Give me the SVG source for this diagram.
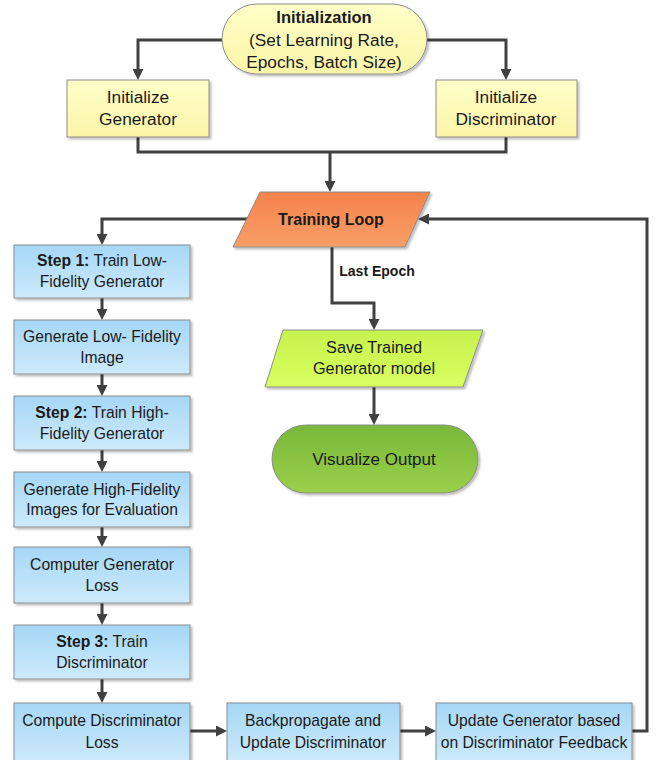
<svg xmlns="http://www.w3.org/2000/svg" width="657" height="760" viewBox="0 0 657 760">
<defs>
<marker id="arr" markerUnits="userSpaceOnUse" markerWidth="11" markerHeight="11" refX="0" refY="5.5" orient="auto">
<path d="M0,0 L11,5.5 L0,11 z" fill="#404040"/>
</marker>
<linearGradient id="gBlue" x1="0" y1="0" x2="0" y2="1">
<stop offset="0" stop-color="#a5d7f6"/><stop offset="1" stop-color="#cdeafb"/>
</linearGradient>
<linearGradient id="gYellow" x1="0" y1="0" x2="0" y2="1">
<stop offset="0" stop-color="#ffffc8"/><stop offset="1" stop-color="#fbf5a8"/>
</linearGradient>
<linearGradient id="gOrange" x1="0" y1="0" x2="0" y2="1">
<stop offset="0" stop-color="#f5824c"/><stop offset="1" stop-color="#fa9e68"/>
</linearGradient>
<linearGradient id="gLime" x1="0" y1="0" x2="0" y2="1">
<stop offset="0" stop-color="#c6f24e"/><stop offset="1" stop-color="#d8ff5e"/>
</linearGradient>
<linearGradient id="gGreen" x1="0" y1="0" x2="0" y2="1">
<stop offset="0" stop-color="#78b83a"/><stop offset="1" stop-color="#9ad04a"/>
</linearGradient>
<filter id="sh" x="-10%" y="-10%" width="130%" height="140%">
<feDropShadow dx="2" dy="2" stdDeviation="1.2" flood-color="#000" flood-opacity="0.25"/>
</filter>
</defs>
<style>
text{font-family:"Liberation Sans",Arial,sans-serif;font-size:15.7px;fill:#1a1a1a;text-anchor:middle}
.b{font-weight:bold}
.y{font-size:17.3px}
.box{stroke:#8c8c8c;stroke-width:1;filter:url(#sh)}
.blue{fill:url(#gBlue)}
.yel{fill:url(#gYellow)}
.con{fill:none;stroke:#404040;stroke-width:3}
.arr{marker-end:url(#arr)}
</style>

<g id="connectors">
<path class="con arr" d="M222,40 H138 V69"/>
<path class="con arr" d="M427,40 H506 V69"/>
<path class="con" d="M138,137 V152 H506 V137"/>
<path class="con arr" d="M330,152 V181"/>
<path class="con arr" d="M248,219 H102 V234"/>
<path class="con arr" d="M102,298 V309"/>
<path class="con arr" d="M102,374 V385"/>
<path class="con arr" d="M102,450 V461"/>
<path class="con arr" d="M102,527 V536"/>
<path class="con arr" d="M102,603 V614"/>
<path class="con arr" d="M102,679 V692"/>
<path class="con arr" d="M190,731 H216"/>
<path class="con arr" d="M400,731 H425"/>
<path class="con arr" d="M632,731 H647 V219 H429"/>
<path class="con arr" d="M332,247 V303 H374 V319"/>
<path class="con arr" d="M374,387 V414"/>
</g>

<g id="n-init">
<rect class="box yel" x="222" y="4" width="205" height="70" rx="35" ry="35"/>
<text class="b" x="324" y="23" style="font-size:16.5px">Initialization</text>
<text class="y" x="324" y="46">(Set Learning Rate,</text>
<text class="y" x="324" y="68">Epochs, Batch Size)</text>
</g>
<g id="n-initgen">
<rect class="box yel" x="67" y="80" width="142" height="57"/>
<text class="y" x="138" y="103">Initialize</text>
<text class="y" x="138" y="125">Generator</text>
</g>
<g id="n-initdisc">
<rect class="box yel" x="436" y="80" width="141" height="57"/>
<text class="y" x="506" y="103">Initialize</text>
<text class="y" x="506" y="125">Discriminator</text>
</g>
<g id="n-loop">
<polygon class="box" fill="url(#gOrange)" points="260,192 430,192 405,247 233,247"/>
<text class="b" x="331" y="225" style="font-size:16px">Training Loop</text>
</g>
<text class="b" x="377" y="276" style="font-size:14px">Last Epoch</text>
<g id="n-save">
<polygon class="box" fill="url(#gLime)" points="283,330 483,330 463,387 265,387"/>
<text x="374" y="353" style="font-size:16.3px">Save Trained</text>
<text x="374" y="374" style="font-size:16.3px">Generator model</text>
</g>
<g id="n-vis">
<rect class="box" fill="url(#gGreen)" x="272" y="425" width="206" height="68" rx="34" ry="34"/>
<text x="374" y="465" style="font-size:17px">Visualize Output</text>
</g>
<g id="n-step1">
<rect class="box blue" x="14" y="245" width="176" height="53"/>
<text x="102" y="266"><tspan class="b">Step 1:</tspan> Train Low-</text>
<text x="102" y="287">Fidelity Generator</text>
</g>
<g id="n-genlow">
<rect class="box blue" x="14" y="320" width="176" height="54"/>
<text x="102" y="342">Generate Low- Fidelity</text>
<text x="102" y="363">Image</text>
</g>
<g id="n-step2">
<rect class="box blue" x="14" y="396" width="176" height="54"/>
<text x="102" y="418"><tspan class="b">Step 2:</tspan> Train High-</text>
<text x="102" y="439">Fidelity Generator</text>
</g>
<g id="n-genhigh">
<rect class="box blue" x="14" y="472" width="176" height="55"/>
<text x="102" y="495">Generate High-Fidelity</text>
<text x="102" y="515">Images for Evaluation</text>
</g>
<g id="n-genloss">
<rect class="box blue" x="14" y="547" width="176" height="56"/>
<text x="102" y="570">Computer Generator</text>
<text x="102" y="591">Loss</text>
</g>
<g id="n-step3">
<rect class="box blue" x="14" y="625" width="176" height="54"/>
<text x="102" y="647"><tspan class="b">Step 3:</tspan> Train</text>
<text x="102" y="668">Discriminator</text>
</g>
<g id="n-discloss">
<rect class="box blue" x="14" y="703" width="176" height="60"/>
<text x="102" y="726">Compute Discriminator</text>
<text x="102" y="748">Loss</text>
</g>
<g id="n-backprop">
<rect class="box blue" x="227" y="703" width="173" height="60"/>
<text x="313" y="726">Backpropagate and</text>
<text x="313" y="748">Update Discriminator</text>
</g>
<g id="n-update">
<rect class="box blue" x="436" y="703" width="196" height="60"/>
<text x="534" y="726">Update Generator based</text>
<text x="534" y="748">on Discriminator Feedback</text>
</g>
</svg>
